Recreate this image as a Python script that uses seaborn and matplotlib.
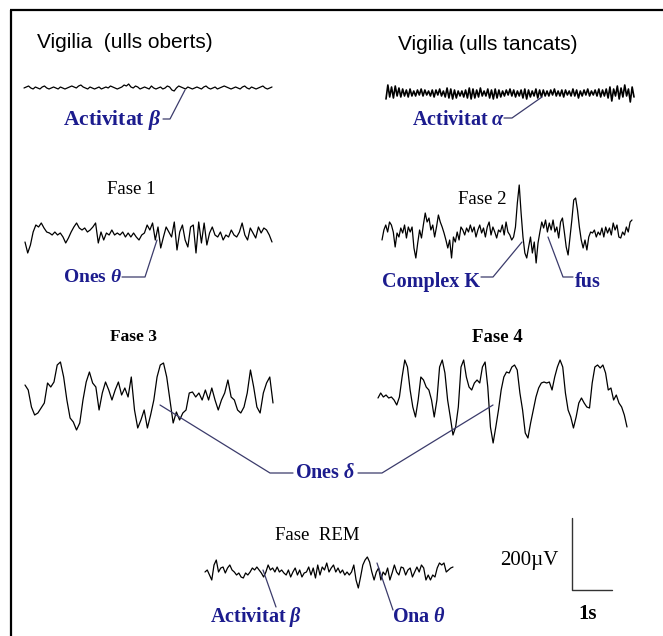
import numpy as np
import matplotlib
matplotlib.use("Agg")
import matplotlib.pyplot as plt
import seaborn as sns

# EEG amplitudes (units: 200 uV = 72 units, positive = up)
vig_oberts = [0, 1, 2, 0, -1, 1, 0, -1, 1, 2, 0, -1, 0, 1, 0, -1, 1, 0, -1, 0, 1, 2, 1, 0, 2, 3, 1, 0,
              -1, 1, 0, -1, 0, 1, -1, 0, 1, 0, 2, 1, 0, -1, 0, 1, 3, 2, 4, 1, 0, 2, 1, -1, 0, 1, 0, -1,
              2, 0, -1, 0, 1, -1, 0, 2, 1, -2, -3, 0, 2, 1, 0, -1, 1, 0, -1, 0, 1, 0, -1, 1, 2, 0, -1,
              0, 1, -1, 0, 1, 2, 1, 0, -1, 0, 1, 0, -1, 1, 2, 0, -1, 1, 0, -1, 0, 1, 2, 0, -1, 0, 1]
vig_tancats = [-6, 8, -4, 6, -5, 7, -3, 5, -4, 4, -3, 3, -4, 4, -3, 2, -3, 3, -2, 4, -3, 3, -2, 2,
               -3, 3, -4, 3, -2, 4, -3, 2, -4, 5, -5, 4, -6, 3, -5, 2, -3, 2, -4, 3, -5, 5, -6, 4,
               -5, 3, -4, 5, -3, 2, -3, 4, -5, 3, -6, 4, -5, 3, -4, 2, -3, 3, -2, 4, -3, 3, -4, 2,
               -3, 3, -5, 4, -6, 3, -4, 2, -3, 4, -5, 3, -4, 3, -3, 2, -3, 3, -2, 4, -3, 2, -3, 3,
               -4, 3, -2, 2, -3, 4, -3, 3, -5, 2, -3, 3, -2, 4, -3, 2, -2, 3, -3, 4, -4, 3, -3, 4,
               -5, 6, -8, 4, -3, 7, -6, 5, -4, 8, -3, 4, -9, 6, -4]
fase1 = [-2, -13, -5, 8, 15, 13, 17, 12, 8, 7, 5, 8, 5, 7, 3, -3, 2, 8, 13, 17, 12, 10, 12, 8, 10,
         13, 17, -3, 8, 0, 7, 5, 10, 5, 7, 5, 8, 3, 7, 3, 7, 3, 0, 5, 7, 15, 10, 17, 0, 13, -8, 3,
         13, 8, 3, 18, -10, 8, 15, 0, -7, 13, 15, -13, 18, -3, 17, -5, 7, 13, 5, 3, 8, 0, 5, 3, 10,
         5, 3, 8, 17, 5, 0, 12, 7, 2, 13, 7, 12, 10, 5, -2]
fase2 = [0, 10, 15, 8, 18, 15, 8, -7, 7, 3, 12, 7, 15, 2, 13, 8, 13, -8, -18, -3, 10, 2, 15, 27,
         18, 22, 10, 15, 3, 13, 25, 18, 13, 7, 0, -8, 0, -18, 3, -2, 8, 0, 13, 10, 5, 12, 8, 15,
         8, 13, 3, 10, 15, 7, 12, 3, 13, 18, 5, 13, 8, 2, 10, 8, 15, 5, 18, 8, 5, 0, 3, 13, 37,
         55, 27, 3, -13, -18, -7, 3, -13, -2, -23, -3, 8, 18, 12, 20, 8, 17, 10, 20, 8, 13, 2, 18,
         22, 8, -7, -15, 2, 20, 40, 42, 30, 13, 0, -8, 0, -10, 3, 8, 7, 10, 3, 8, 5, 12, 3, 13, 7,
         12, 5, 17, 10, 15, 3, 2, 8, 5, 13, 8, 18, 20]
fase3 = [15, 10, -7, -15, -13, -8, -3, 17, 13, 18, 35, 38, 23, 0, -18, -22, -30, -23, 0, 18, 28,
         17, 13, -10, 7, 18, 10, 0, 10, 18, 5, 12, 3, 23, -10, -28, -20, -10, -28, -15, 0, 23, 35,
         37, 23, 0, -23, -12, -20, -13, -10, 7, 8, 3, 7, 0, 10, 0, 12, 0, -10, 0, 7, 20, 3, 0, -10,
         -13, -7, 7, 30, 13, -7, -13, 7, 17, 23, -3]
fase4 = [2, 7, 3, 5, 2, 3, 0, -5, 3, 23, 40, 33, 10, -7, -17, 0, 23, 20, 13, 10, 0, -17, 0, 33,
         40, 27, 0, -17, -35, -27, -7, 33, 40, 23, 13, 10, 17, 20, 17, 33, 38, 13, -27, -43, -27,
         -10, 10, 23, 28, 27, 33, 35, 30, 7, -10, -33, -38, -23, -10, 3, 12, 17, 18, 17, 18, 10,
         23, 33, 40, 33, 7, -10, -17, -28, -17, -3, 2, -3, -7, -8, 17, 33, 35, 32, 35, 27, 10, 12,
         0, 5, -3, -7, -15, -27]
rem = [-2, 0, -5, -10, 5, 10, -2, 2, 3, -3, 2, 5, 0, -2, -5, -3, -7, -8, -3, -5, -2, 2, 0, 3, 0,
       -3, -7, -2, 5, 0, 2, -2, 3, -2, 0, -3, -5, 0, -7, -2, 2, -5, 0, -7, -3, -2, 3, -5, 2, -8, 5,
       -5, 3, 0, 7, -2, 2, 5, -2, 2, -3, 0, -5, -2, -5, -2, 5, -10, -18, -7, 5, 10, 13, 8, -2, -10,
       -2, 2, -10, -2, -5, 2, -10, -3, 5, -2, -5, 3, 2, -5, 0, 2, -7, -2, 3, -2, 5, 2, -10, -5,
       -10, -5, -7, 2, 7, 5, 7, -2, 0, 2, 3]

traces = [vig_oberts, vig_tancats, fase1, fase2, fase3, fase4, rem]
# (x start, x end, baseline, line width) in figure pixels
spans = [(24, 272, 88, 0.9), (386, 634, 93, 1.2), (25, 272, 240, 0.9), (382, 632, 240, 0.9),
         (25, 273, 400, 0.9), (378, 627, 400, 0.9), (205, 453, 570, 0.9)]

BLUE = "#1c1c8e"
LINE = "#3b3b6b"

sns.set_theme(style="white")
plt.rcParams["mathtext.fontset"] = "custom"
plt.rcParams["mathtext.it"] = "Liberation Serif:bold:italic"
plt.rcParams["mathtext.rm"] = "Liberation Serif:bold"

fig = plt.figure(figsize=(6.63, 6.36), dpi=100)
ax = fig.add_axes([0, 0, 1, 1])
ax.set_xlim(0, 663)
ax.set_ylim(636, 0)
ax.axis("off")

for amp, (x0, x1, base, w) in zip(traces, spans):
    amp = np.asarray(amp, dtype=float)
    xs = np.linspace(x0, x1, len(amp))
    sns.lineplot(x=xs, y=base - amp, ax=ax, color="black", lw=w,
                 estimator=None, sort=False)

# frame (top and left only)
ax.plot([10, 663], [10, 10], color="black", lw=1.6, solid_capstyle="butt")
ax.plot([11, 11], [10, 636], color="black", lw=1.6, solid_capstyle="butt")

sans = dict(family="Liberation Sans", fontsize=15, va="center", color="black")
serif = dict(family="Liberation Serif", fontsize=13.5, va="center", color="black")
blue = dict(family="Liberation Serif", fontsize=14.5, va="center", color=BLUE,
            fontweight="bold")

ax.text(37, 42, "Vigilia  (ulls oberts)", **sans)
ax.text(398, 44, "Vigilia (ulls tancats)", **sans)
ax.text(107, 190, "Fase 1", **serif)
ax.text(458, 200, "Fase 2", **serif)
ax.text(110, 337, "Fase 3", fontweight="bold", **{**serif, "fontsize": 12.5})
ax.text(472, 337, "Fase 4", fontweight="bold", **serif)
ax.text(275, 535, "Fase  REM", **serif)
ax.text(500, 560, "200\u00b5V", **{**serif, "fontsize": 15})
ax.text(578, 614, "1s", fontweight="bold", **{**serif, "fontsize": 15})

ax.text(63, 120, r"Activitat $\beta$", **{**blue, "fontsize": 15.5})
ax.text(412, 120, r"Activitat $\alpha$", **blue)
ax.text(63, 277, r"Ones $\theta$", **{**blue, "fontsize": 14})
ax.text(382, 282, "Complex K", **blue)
ax.text(575, 282, "fus", **blue)
ax.text(325, 473, r"Ones $\delta$", ha="center", **blue)
ax.text(210, 617, r"Activitat $\beta$", **blue)
ax.text(392, 617, r"Ona $\theta$", **blue)

callouts = [
    [(163, 119), (170, 119), (185, 90)],
    [(504, 118), (512, 118), (542, 97)],
    [(122, 277), (145, 277), (157, 240)],
    [(481, 277), (493, 277), (522, 242)],
    [(573, 277), (563, 277), (548, 237)],
    [(293, 473), (270, 473), (160, 405)],
    [(358, 473), (382, 473), (493, 405)],
    [(263, 570), (276, 607)],
    [(377, 563), (393, 610)],
]
for pts in callouts:
    px, py = zip(*pts)
    ax.plot(px, py, color=LINE, lw=0.9)

# scale bar
ax.plot([572, 572, 612], [518, 590, 590], color="#333333", lw=1.0)

fig.savefig("out.png", dpi=100)
